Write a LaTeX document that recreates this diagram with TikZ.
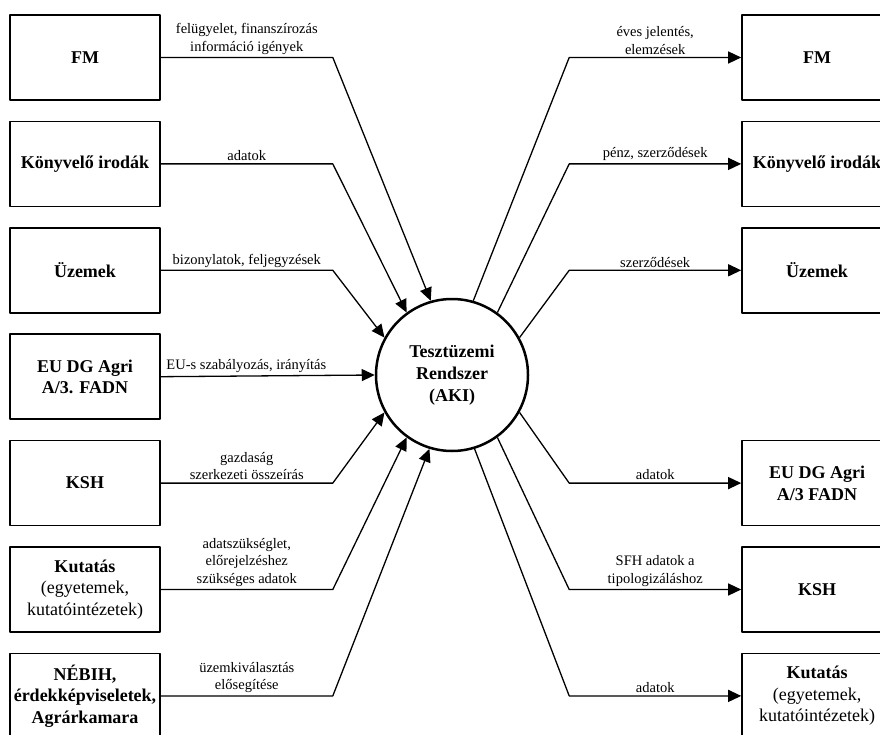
\documentclass[tikz,border=0pt]{standalone}
\usepackage{fontspec}
\setmainfont{Liberation Serif}
\usetikzlibrary{arrows.meta}
\begin{document}
\begin{tikzpicture}[x=1pt,y=-1pt,line join=round,
  box/.style={draw,line width=1.6pt,minimum width=150pt,minimum height=85pt,align=center,inner sep=1pt,font=\fontsize{18}{21.5}\selectfont},
  flow/.style={line width=1.3pt,-{Triangle[length=13pt,width=12pt]}},
  lbl/.style={midway,above,align=center,inner sep=2.5pt,font=\fontsize{14.5}{17.5}\selectfont}]
  \useasboundingbox (0,0) rectangle (880,735);
  \node[circle,draw,line width=2.5pt,minimum size=152pt,align=center,font=\fontsize{18}{22}\selectfont\bfseries] (aki) at (452,375) {Tesztüzemi\\Rendszer\\(AKI)};
  % left column
  \node[box] (lfm)  at (85,57.5)  {\textbf{FM}};
  \node[box] (lkon) at (85,163.9) {\textbf{Könyvelő irodák}};
  \node[box] (luz)  at (85,270.3) {\textbf{Üzemek}};
  \node[box] (leu)  at (85,376.7) {\textbf{EU DG Agri}\\\textbf{A/3. FADN}};
  \node[box] (lksh) at (85,483.1) {\textbf{KSH}};
  \node[box] (lkut) at (85,589.5) {\textbf{Kutatás}\\(egyetemek,\\kutatóintézetek)};
  \node[box] (lneb) at (85,695.9) {\textbf{NÉBIH,}\\\textbf{érdekképviseletek,}\\\textbf{Agrárkamara}};
  % right column
  \node[box] (rfm)  at (817,57.5)  {\textbf{FM}};
  \node[box] (rkon) at (817,163.9) {\textbf{Könyvelő irodák}};
  \node[box] (ruz)  at (817,270.3) {\textbf{Üzemek}};
  \node[box] (reu)  at (817,483.1) {\textbf{EU DG Agri}\\\textbf{A/3 FADN}};
  \node[box] (rksh) at (817,589.5) {\textbf{KSH}};
  \node[box] (rkut) at (817,695.9) {\textbf{Kutatás}\\(egyetemek,\\kutatóintézetek)};
  % inputs
  \draw[flow] (lfm.east) -- ([xshift=172pt]lfm.east) node[lbl] {felügyelet, finanszírozás\\információ igények} -- (aki.106);
  \draw[flow] (lkon.east) -- ([xshift=172pt]lkon.east) node[lbl] {adatok} -- (aki.126);
  \draw[flow] (luz.east) -- ([xshift=172pt]luz.east) node[lbl] {bizonylatok, feljegyzések} -- (aki.151);
  \draw[flow] (leu.east) -- (aki.180) node[lbl,pos=0.4] {EU-s szabályozás, irányítás};
  \draw[flow] (lksh.east) -- ([xshift=172pt]lksh.east) node[lbl] {gazdaság\\szerkezeti összeírás} -- (aki.209);
  \draw[flow] (lkut.east) -- ([xshift=172pt]lkut.east) node[lbl] {adatszükséglet,\\előrejelzéshez\\szükséges adatok} -- (aki.234);
  \draw[flow] (lneb.east) -- ([xshift=172pt]lneb.east) node[lbl] {üzemkiválasztás\\elősegítése} -- (aki.253);
  % outputs
  \draw[flow] (aki.74) -- ([xshift=-172pt]rfm.west) -- (rfm.west) node[lbl] {éves jelentés,\\elemzések};
  \draw[flow] (aki.54) -- ([xshift=-172pt]rkon.west) -- (rkon.west) node[lbl] {pénz, szerződések};
  \draw[flow] (aki.29) -- ([xshift=-172pt]ruz.west) -- (ruz.west) node[lbl] {szerződések};
  \draw[flow] (aki.-29) -- ([xshift=-172pt]reu.west) -- (reu.west) node[lbl] {adatok};
  \draw[flow] (aki.-54) -- ([xshift=-172pt]rksh.west) -- (rksh.west) node[lbl] {SFH adatok a\\tipologizáláshoz};
  \draw[flow] (aki.-73) -- ([xshift=-172pt]rkut.west) -- (rkut.west) node[lbl] {adatok};
\end{tikzpicture}
\end{document}
